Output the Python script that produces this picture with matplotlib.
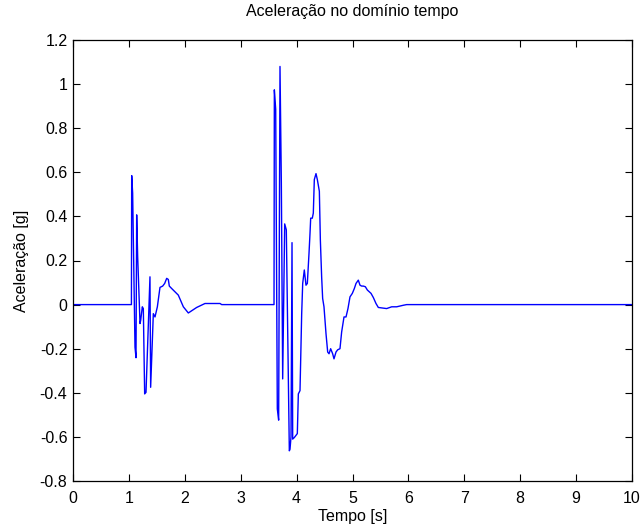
import matplotlib
matplotlib.use("Agg")
import matplotlib.pyplot as plt
import numpy as np

plt.rcParams['font.family'] = ['Liberation Sans', 'DejaVu Sans']

# Time samples [s]
tempo = [
    0.0, 1.045, 1.050, 1.067, 1.109, 1.127, 1.139, 1.157, 1.199, 1.211,
    1.240, 1.258, 1.282, 1.306, 1.377, 1.389, 1.437, 1.467, 1.509, 1.556,
    1.604, 1.640, 1.676, 1.705, 1.723, 1.765, 1.884, 1.974, 2.063, 2.212,
    2.361, 2.630, 2.660,
    3.596, 3.602, 3.626, 3.655, 3.679, 3.703, 3.727, 3.751, 3.787, 3.816,
    3.870, 3.882, 3.900, 3.918, 3.930, 3.959, 4.013, 4.031, 4.061, 4.091,
    4.109, 4.138, 4.168, 4.192, 4.222, 4.240, 4.252, 4.281, 4.299, 4.317,
    4.347, 4.371, 4.407, 4.425, 4.448, 4.466, 4.490, 4.526, 4.556, 4.580,
    4.609, 4.645, 4.669, 4.705, 4.735, 4.776, 4.806, 4.848, 4.884, 4.919,
    4.955, 4.997, 5.033, 5.063, 5.104, 5.134, 5.164, 5.194, 5.230, 5.266,
    5.331, 5.373, 5.420, 5.462, 5.611, 5.701, 5.790, 5.909, 5.969, 10.0,
]

# Acceleration [g]
aceleracao = [
    0.0, 0.0, 0.585, 0.506, -0.193, -0.241, 0.407, 0.217, -0.086, -0.071,
    -0.010, -0.018, -0.405, -0.398, 0.126, -0.375, -0.041, -0.056, -0.010, 0.078,
    0.084, 0.096, 0.119, 0.114, 0.084, 0.073, 0.043, -0.010, -0.038, -0.013,
    0.005, 0.005, 0.0,
    0.0, 0.974, 0.886, -0.473, -0.524, 1.080, 0.552, -0.337, 0.366, 0.339,
    -0.663, -0.656, -0.600, 0.281, -0.610, -0.603, -0.585, -0.405, -0.390, -0.041,
    0.096, 0.157, 0.088, 0.096, 0.233, 0.324, 0.392, 0.392, 0.415, 0.567,
    0.594, 0.567, 0.514, 0.293, 0.126, 0.028, -0.010, -0.132, -0.215, -0.223,
    -0.200, -0.223, -0.246, -0.215, -0.205, -0.200, -0.124, -0.056, -0.056, -0.018,
    0.035, 0.051, 0.073, 0.096, 0.111, 0.088, 0.084, 0.084, 0.081, 0.066,
    0.051, 0.032, 0.005, -0.013, -0.018, -0.010, -0.010, -0.003, 0.0, 0.0,
]

xticks = np.arange(0, 11, 1)
yticks = np.round(np.arange(-0.8, 1.21, 0.2), 1)
ytick_labels = ['-0.8', '-0.6', '-0.4', '-0.2', '0', '0.2', '0.4', '0.6', '0.8', '1', '1.2']

fig = plt.figure(figsize=(6.43, 5.27), dpi=100)
ax = fig.add_axes([73 / 643, 1 - 481 / 527, (632 - 73) / 643, (481 - 40) / 527])

ax.plot(tempo, aceleracao, color='#0000ff', linewidth=1.0)

ax.set_xlim(0, 10)
ax.set_ylim(-0.8, 1.2)
ax.set_xticks(xticks)
ax.set_xticklabels([str(v) for v in xticks])
ax.set_yticks(yticks)
ax.set_yticklabels(ytick_labels)

ax.tick_params(direction='in', length=5, width=0.8, top=True, right=True,
               labelsize=11.5)
ax.tick_params(axis='x', pad=7)
ax.tick_params(axis='y', pad=4)
for s in ax.spines.values():
    s.set_linewidth(0.9)

ax.set_title('Aceleração no domínio tempo', fontsize=11.5, pad=17)
ax.set_xlabel('Tempo [s]', fontsize=11.5, labelpad=2)
ax.set_ylabel('Aceleração [g]', fontsize=11.5, labelpad=8)

fig.savefig('out.png', dpi=100, facecolor='white')
